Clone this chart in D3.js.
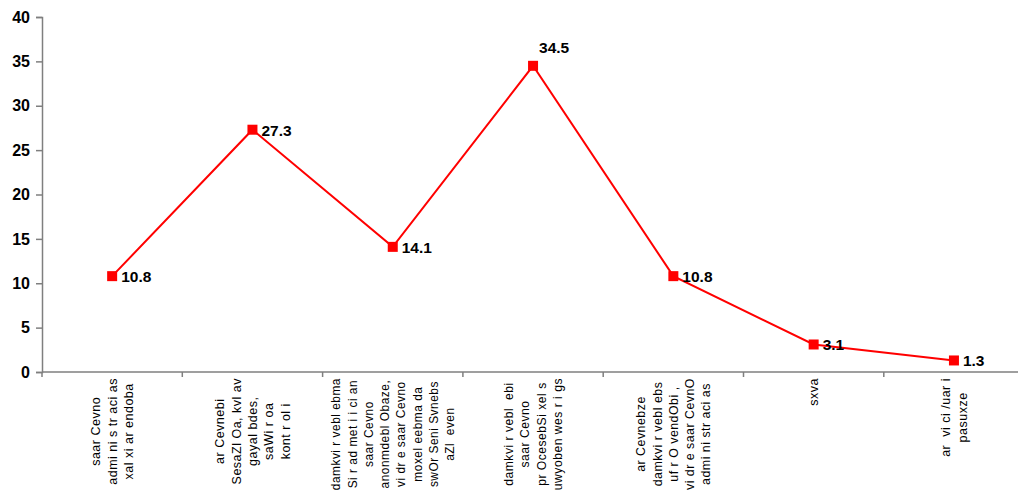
<!DOCTYPE html>
<html><head><meta charset="utf-8">
<script src="https://cdn.jsdelivr.net/npm/d3@7"></script>
<style>
html,body{margin:0;padding:0;background:#fff;}
svg{display:block;font-family:Arial,"Liberation Sans",sans-serif;}
</style></head>
<body>
<svg id="c" width="1018" height="495"></svg>
<script>
const categories = [
  ["saar Cevno", "admi ni s tr aci as", "xal xi ar endoba"],
  ["ar Cevnebi", "SesaZl Oa, kvl av", "gayal bdes,", "saWi r oa", "kont r ol i"],
  ["damkvi r vebl ebma", "Si r ad met i i ci an", "saar Cevno", "anonmdebl Obaze,", "vi dr e saar Cevno", "moxel eebma da", "swOr Seni Svnebs", "aZl  even"],
  ["damkvi r vebl  ebi", "saar Cevno", "pr OcesebSi xel s", "uwyoben wes r i gs"],
  ["ar Cevnebze", "damkvi r vebl ebs", "uf r O vendObi ,", "vi dr e saar CevnO", "admi ni str aci as"],
  ["sxva"],
  ["ar  vi ci /uar i", "pasuxze"]
];
const values = [10.8, 27.3, 14.1, 34.5, 10.8, 3.1, 1.3];
const yTicks = [0, 5, 10, 15, 20, 25, 30, 35, 40];

const svg = d3.select("#c");
const mLeft = 42, mTop = 17, mBottom = 372, step = 140.3;
const x = d3.scaleBand().domain(d3.range(values.length)).range([mLeft, mLeft + step * values.length]).paddingInner(0).paddingOuter(0);
const y = d3.scaleLinear().domain([0, 40]).range([mBottom, mTop]);
const axisColor = "#7f7f7f";

// Y axis
const yAxis = svg.append("g").attr("transform", `translate(${mLeft},0)`)
  .call(d3.axisLeft(y).tickValues(yTicks).tickSize(6).tickPadding(6).tickFormat(d3.format("d")));
yAxis.select(".domain").attr("stroke", axisColor).attr("stroke-width", 1.5);
yAxis.selectAll(".tick line").attr("stroke", axisColor).attr("stroke-width", 1.5);
yAxis.selectAll(".tick text").attr("font-size", 16).attr("font-weight", "bold").attr("fill", "#000")
  .attr("font-family", "Arial, 'Liberation Sans', sans-serif");

// X axis
const xAxisG = svg.append("g").attr("transform", `translate(0,${mBottom})`);
xAxisG.append("line").attr("x1", mLeft).attr("x2", mLeft + step * values.length)
  .attr("stroke", axisColor).attr("stroke-width", 1.5);
const boundaries = d3.range(values.length + 1).map(i => i < values.length ? x(i) : x(values.length - 1) + x.bandwidth());
xAxisG.selectAll("line.tk").data(boundaries).enter().append("line").attr("class", "tk")
  .attr("x1", d => d).attr("x2", d => d).attr("y1", 0).attr("y2", 5)
  .attr("stroke", axisColor).attr("stroke-width", 1.5);

// category labels
const lh = 16.3, labTop = 378, maxAllowed = 112;
categories.forEach((lines, i) => {
  const cx = x(i) + x.bandwidth() / 2;
  const g = svg.append("g").attr("transform", `translate(${cx},${labTop}) rotate(-90)`);
  const texts = lines.map((t, j) => g.append("text")
    .attr("font-size", 12.5)
    .attr("letter-spacing", 0.5)
    .attr("fill", "#000")
    .style("white-space", "pre")
    .attr("text-anchor", "middle")
    .attr("y", (j - (lines.length - 1) / 2) * lh + 4.5)
    .text(t));
  let maxLen = d3.max(texts, t => t.node().getComputedTextLength());
  if (maxLen > maxAllowed) {
    const fs = 12.5 * maxAllowed / maxLen;
    texts.forEach(t => t.attr("font-size", fs));
    maxLen = d3.max(texts, t => t.node().getComputedTextLength());
  }
  texts.forEach(t => t.attr("x", -maxLen / 2));
});

// line
const cxOf = i => x(i) + x.bandwidth() / 2;
svg.append("path").datum(values)
  .attr("fill", "none").attr("stroke", "#ff0000").attr("stroke-width", 2)
  .attr("d", d3.line().x((d, i) => cxOf(i)).y(d => y(d)));

svg.selectAll("rect.m").data(values).enter().append("rect").attr("class", "m")
  .attr("x", (d, i) => cxOf(i) - 5).attr("y", d => y(d) - 5)
  .attr("width", 10).attr("height", 10).attr("fill", "#ff0000");

// value labels
svg.selectAll("text.v").data(values).enter().append("text").attr("class", "v")
  .attr("font-size", 15.5).attr("font-weight", "bold").attr("fill", "#000")
  .attr("x", (d, i) => d === d3.max(values) ? cxOf(i) + 6 : cxOf(i) + 9)
  .attr("y", d => d === d3.max(values) ? y(d) - 13 : y(d) + 6)
  .text(d => d3.format(".1f")(d));
</script>
</body></html>
